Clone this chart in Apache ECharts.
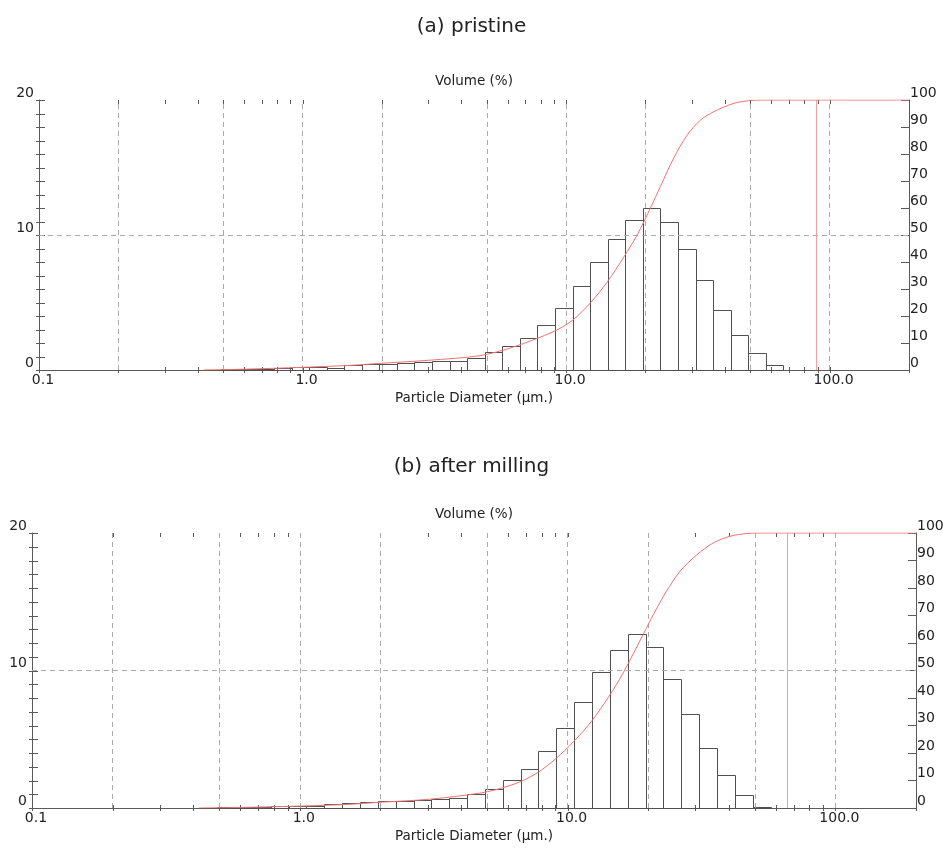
<!DOCTYPE html>
<html>
<head>
<meta charset="utf-8">
<script src="https://cdn.jsdelivr.net/npm/echarts/dist/echarts.min.js"></script>
<style>
  html, body { margin: 0; padding: 0; background: #fff; }
  #chart { width: 943px; height: 848px; }
</style>
</head>
<body>
<div id="chart"></div>
<script>
// Particle size distributions (laser diffraction), volume % per size class
const FONT = '"DejaVu Sans", "Liberation Sans", Arial, sans-serif';

// Size class edges in µm (each bin spans binEdges[i] .. binEdges[i+1])
const binEdges = [0.422, 0.491, 0.573, 0.668, 0.779, 0.908, 1.059, 1.234, 1.439, 1.678,
  1.956, 2.280, 2.659, 3.100, 3.614, 4.214, 4.913, 5.728, 6.678, 7.786,
  9.078, 10.58, 12.34, 14.39, 16.78, 19.56, 22.80, 26.59, 31.00, 36.14,
  42.14, 49.13, 57.28, 66.78];

// Volume (%) in each size class
const volumePristine = [0.03, 0.05, 0.08, 0.10, 0.12, 0.20, 0.22, 0.15, 0.37, 0.44,
  0.44, 0.54, 0.60, 0.65, 0.70, 0.86, 1.30, 1.75, 2.40, 3.35,
  4.58, 6.22, 8.02, 9.68, 11.10, 12.02, 10.94, 8.98, 6.64, 4.48,
  2.59, 1.28, 0.34];
const volumeMilled = [0.02, 0.04, 0.05, 0.08, 0.12, 0.16, 0.18, 0.30, 0.40, 0.45,
  0.50, 0.54, 0.55, 0.62, 0.74, 1.05, 1.38, 2.02, 2.87, 4.15,
  5.79, 7.73, 9.86, 11.48, 12.66, 11.72, 9.40, 6.81, 4.34, 2.41,
  0.93, 0.05, 0];

// Cumulative volume (%) against particle diameter (µm)
const cumulativePristine = [[0.42, 0], [0.6, 0.3], [1.0, 1.0], [1.5, 1.7], [2.0, 2.5],
  [3.0, 3.6], [4.7, 5.3], [6.3, 8.5], [9.0, 14.3], [10.6, 18.5], [12.4, 25.0],
  [14.3, 32.5], [16.6, 42.0], [18.6, 50.0], [20.9, 60.0], [22.8, 68.0], [25.6, 78.5],
  [28.8, 87.0], [32.4, 92.6], [36.4, 95.7], [43.4, 98.8], [50.1, 99.8], [60, 100], [200, 100]];
const cumulativeMilled = [[0.42, 0], [0.6, 0.2], [1.0, 0.7], [1.5, 1.3], [2.0, 2.1],
  [3.06, 3.2], [4.7, 5.4], [5.6, 7.1], [6.64, 9.5], [7.77, 13.0], [9.05, 18.0],
  [10.5, 24.0], [12.3, 31.6], [14.3, 40.7], [16.1, 49.0], [19.3, 63.7], [20.9, 70.3],
  [23.4, 78.8], [26.3, 86.1], [30.4, 92.1], [35.0, 96.4], [40.4, 98.8], [46.6, 99.8],
  [55, 100], [200, 100]];

// Vertical marker position (µm) in each panel
const markerPristine = 89;
const markerMilled = 66;

// Axis text and tick positions
const panelTitles = ['(a) pristine', '(b) after milling'];
const xAxisTitle = 'Particle Diameter (µm.)';
const yAxisTitle = 'Volume (%)';
const xTickLabels = ['0.1', '1.0', '10.0', '100.0'];
const xGridLines = [0.2, 0.5, 1, 2, 5, 10, 20, 50, 100];
const xTicks = [0.1, 0.2, 0.3, 0.4, 0.5, 0.6, 0.7, 0.8, 0.9,
  1, 2, 3, 4, 5, 6, 7, 8, 9,
  10, 20, 30, 40, 50, 60, 70, 80, 90,
  100, 200];
const yTicks = [0, 1, 2, 3, 4, 5, 6, 7, 8, 9, 10, 11, 12, 13, 14, 15, 16, 17, 18, 19, 20];

const AXIS_COLOR = '#5a5a5a';
const TEXT_COLOR = '#222';
const GRID_COLOR = '#aaa';
const CURVE_COLOR = '#f07272';
const MARKER_COLOR = '#f4a0a0';

function toBins(values) {
  const out = [];
  values.forEach((v, i) => { if (v > 0) out.push([binEdges[i], binEdges[i + 1], v]); });
  return out;
}

function renderBar(params, api) {
  const a = api.coord([api.value(0), 0]);
  const b = api.coord([api.value(1), api.value(2)]);
  const x0 = Math.round(a[0]) + 0.5, x1 = Math.round(b[0]) + 0.5;
  const y0 = Math.round(a[1]) + 0.5, y1 = Math.round(b[1]) + 0.5;
  return {
    type: 'rect',
    shape: { x: x0, y: y1, width: x1 - x0, height: y0 - y1 },
    style: { fill: 'none', stroke: '#505050', lineWidth: 1 }
  };
}

// Short ticks on the bottom and top frame at every log sub-division
function renderXTicks(params, api) {
  const cs = params.coordSys;
  const x = Math.round(api.coord([api.value(0), 0])[0]) + 0.5;
  const top = cs.y, bot = cs.y + cs.height;
  return {
    type: 'group',
    children: [
      { type: 'line', shape: { x1: x, y1: bot - 3, x2: x, y2: bot + 3 }, style: { stroke: AXIS_COLOR, lineWidth: 1 } },
      { type: 'line', shape: { x1: x, y1: top, x2: x, y2: top + 4 }, style: { stroke: AXIS_COLOR, lineWidth: 1 } }
    ]
  };
}

// Ticks crossing the left frame at every unit of the volume axis
function renderYTicks(params, api) {
  const cs = params.coordSys;
  const y = Math.round(api.coord([1, api.value(0)])[1]) + 0.5;
  return {
    type: 'line',
    shape: { x1: cs.x - 3, y1: y, x2: cs.x + 6, y2: y },
    style: { stroke: AXIS_COLOR, lineWidth: 1 }
  };
}

function xLabel(value) {
  const lg = Math.log10(value);
  const idx = Math.round(lg) + 1;
  const nearDecade = Math.abs(lg - Math.round(lg)) < 1e-6;
  return nearDecade && xTickLabels[idx] !== undefined ? xTickLabels[idx] : '';
}

const panels = [
  { grid: { left: 39, right: 34, top: 100, height: 270 }, volume: volumePristine, cumulative: cumulativePristine, marker: markerPristine, titleTop: 12 },
  { grid: { left: 32, right: 27, top: 533, height: 275 }, volume: volumeMilled, cumulative: cumulativeMilled, marker: markerMilled, titleTop: 452 }
];

const option = {
  animation: false,
  backgroundColor: '#fff',
  textStyle: { fontFamily: FONT },
  title: panels.map((p, i) => ({
    text: panelTitles[i], left: 'center', top: p.titleTop,
    textStyle: { fontFamily: FONT, fontSize: 20, fontWeight: 'normal', color: TEXT_COLOR }
  })),
  grid: panels.map(p => Object.assign({ containLabel: false, outerBoundsMode: 'none', show: false }, p.grid)),
  xAxis: [],
  yAxis: [],
  series: []
};

panels.forEach((p, gi) => {
  const xb = option.xAxis.length;
  option.xAxis.push({
    gridIndex: gi, type: 'log', logBase: 10, min: 0.1, max: 200, position: 'bottom',
    axisLine: { show: true, lineStyle: { color: AXIS_COLOR, width: 1 } },
    axisTick: { show: false }, splitLine: { show: false }, minorTick: { show: false },
    axisLabel: { show: true, formatter: xLabel, color: TEXT_COLOR, fontSize: 14, fontFamily: FONT, margin: 3, padding: [0, 0, 0, 8], showMaxLabel: false },
    name: xAxisTitle, nameLocation: 'middle', nameGap: 21,
    nameTextStyle: { color: TEXT_COLOR, fontSize: 13.5, fontFamily: FONT }
  });
  option.xAxis.push({
    gridIndex: gi, type: 'log', logBase: 10, min: 0.1, max: 200, position: 'top',
    axisLine: { show: true, lineStyle: { color: AXIS_COLOR, width: 1 } },
    axisTick: { show: false }, splitLine: { show: false }, axisLabel: { show: false },
    name: yAxisTitle, nameLocation: 'middle', nameGap: 12,
    nameTextStyle: { color: TEXT_COLOR, fontSize: 13.5, fontFamily: FONT }
  });
  const yl = option.yAxis.length;
  option.yAxis.push({
    gridIndex: gi, type: 'value', min: 0, max: 20, interval: 10, position: 'left',
    axisLine: { show: true, lineStyle: { color: AXIS_COLOR, width: 1 } },
    axisTick: { show: false }, minorTick: { show: false },
    splitLine: { show: false },
    axisLabel: { color: TEXT_COLOR, fontSize: 14, fontFamily: FONT, margin: 5, verticalAlign: 'bottom' }
  });
  option.yAxis.push({
    gridIndex: gi, type: 'value', min: 0, max: 100, interval: 10, position: 'right',
    axisLine: { show: true, lineStyle: { color: AXIS_COLOR, width: 1 } },
    axisTick: { show: true, inside: true, length: 8, lineStyle: { color: AXIS_COLOR } },
    splitLine: { show: false },
    axisLabel: { color: TEXT_COLOR, fontSize: 14, fontFamily: FONT, margin: 1, verticalAlign: 'bottom' }
  });

  option.series.push({
    type: 'custom', xAxisIndex: xb, yAxisIndex: yl, silent: true,
    data: xTicks.map(v => [v, 0]), encode: { x: 0, y: 1 },
    renderItem: renderXTicks, z: 3
  });
  option.series.push({
    type: 'custom', xAxisIndex: xb, yAxisIndex: yl, silent: true,
    data: yTicks.map(v => [v]), encode: { y: 0 },
    renderItem: renderYTicks, z: 3
  });

  // Histogram bars with dashed reference grid
  option.series.push({
    type: 'custom', xAxisIndex: xb, yAxisIndex: yl, silent: true,
    data: toBins(p.volume), encode: { x: [0, 1], y: 2 },
    renderItem: renderBar, z: 4,
    markLine: {
      silent: true, symbol: 'none', animation: false,
      label: { show: false },
      lineStyle: { type: [5, 4], color: GRID_COLOR, width: 1 },
      data: xGridLines.map(v => ({ xAxis: v })).concat([{ yAxis: 10 }])
    }
  });

  // Cumulative curve on the right-hand axis
  option.series.push({
    type: 'line', xAxisIndex: xb, yAxisIndex: yl + 1, silent: true,
    data: p.cumulative, showSymbol: false, smooth: 0.3,
    lineStyle: { color: CURVE_COLOR, width: 1 }, z: 5,
    markLine: {
      silent: true, symbol: 'none', animation: false,
      label: { show: false },
      lineStyle: { type: 'solid', color: MARKER_COLOR, width: 1 },
      data: [{ xAxis: p.marker }]
    }
  });
});

const chart = echarts.init(document.getElementById('chart'), null, { renderer: 'canvas' });
chart.setOption(option);
</script>
</body>
</html>
